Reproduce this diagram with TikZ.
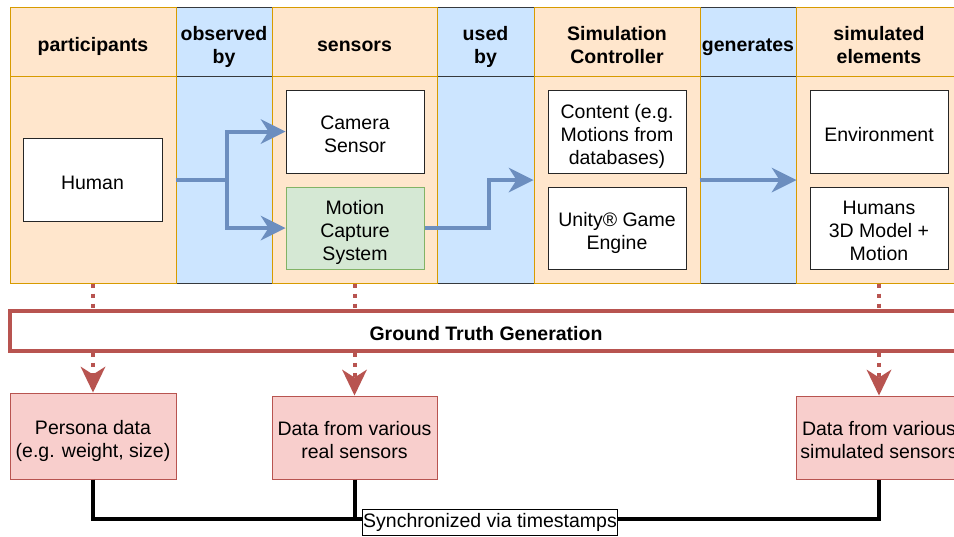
\documentclass[tikz,border=0pt]{standalone}
\usepackage{fontspec}
\setmainfont{Liberation Sans}
\usetikzlibrary{arrows.meta}

\definecolor{peach}{HTML}{FFE6CC}
\definecolor{peachline}{HTML}{D79B00}
\definecolor{skyfill}{HTML}{CCE5FF}
\definecolor{laneink}{HTML}{36393D}
\definecolor{flowblue}{HTML}{6C8EBF}
\definecolor{mocapfill}{HTML}{D5E8D4}
\definecolor{mocapline}{HTML}{82B366}
\definecolor{gtred}{HTML}{B85450}
\definecolor{gtfill}{HTML}{F8CECC}

\tikzset{
  txt/.style={font=\fontsize{19.5}{23}\selectfont, align=center, text=black},
  % fixed text box sizes centre each block on its line boxes, not on its glyphs
  boxtxt/.style={txt, text height=24.5pt, text depth=5pt},
  lines2/.style={text height=47.5pt},
  lines3/.style={text height=70.5pt},
  lanehead/.style={boxtxt, font=\fontsize{19.5}{23}\selectfont\bfseries, line width=1pt,
                   minimum height=68.5pt, inner sep=0pt},
  lanebody/.style={line width=1pt, minimum height=207pt, inner sep=0pt},
  orangelane/.style={fill=peach, draw=peachline},
  bluelane/.style={fill=skyfill, draw=laneink},
  whitebox/.style={boxtxt, draw=black!85, fill=white, line width=1pt,
                   minimum width=138pt, minimum height=83pt, inner sep=0pt},
  greenbox/.style={whitebox, draw=mocapline, fill=mocapfill},
  redbox/.style={boxtxt, draw=gtred, fill=gtfill, line width=1pt,
                 minimum width=166pt, minimum height=83pt, inner sep=0pt},
  flowtip/.style={-{Stealth[length=25pt, width=25pt, inset=8pt, line width=0pt]}},
  flow/.style={draw=flowblue, line width=4pt, flowtip},
  gtdots/.style={draw=gtred, line width=4pt, dash pattern=on 4pt off 6pt},
  gtarrow/.style={gtdots, -{Stealth[length=26pt, width=25pt, inset=8pt, line width=0pt]}},
  syncline/.style={draw=black, line width=4pt},
  synclabel/.style={txt, draw=black, fill=white, line width=0.8pt, inner xsep=1pt,
                    inner ysep=3pt, text height=15.5pt, text depth=4.5pt},
}

\begin{document}
\begin{tikzpicture}[x=1pt, y=-1pt]
  \useasboundingbox (0,0) rectangle (954,536);
  \fill[white] (0,0) rectangle (954,536);
  \clip (0,0) rectangle (954,536);

  % blue connecting lanes (drawn first so the orange lane edges stay on top)
  \node[lanehead, lines2, bluelane, minimum width=96pt] (obshead) at (224,41.75) {observed\\by};
  \node[lanebody, bluelane, minimum width=96pt] (obsbody) at (224,179.5) {};
  \node[lanehead, lines2, bluelane, minimum width=97pt] (usedhead) at (485.5,41.75) {used\\by};
  \node[lanebody, bluelane, minimum width=97pt] (usedbody) at (485.5,179.5) {};
  \node[lanehead, bluelane, minimum width=96pt] (genhead) at (748,41.75) {generates};
  \node[lanebody, bluelane, minimum width=96pt] (genbody) at (748,179.5) {};

  % orange component lanes
  \node[lanehead, orangelane, minimum width=166pt] (parthead) at (93,41.75) {participants};
  \node[lanebody, orangelane, minimum width=166pt] (partbody) at (93,179.5) {};
  \node[lanehead, orangelane, minimum width=165pt] (senshead) at (354.5,41.75) {sensors};
  \node[lanebody, orangelane, minimum width=165pt] (sensbody) at (354.5,179.5) {};
  \node[lanehead, lines2, orangelane, minimum width=166pt] (ctrlhead) at (617,41.75) {Simulation\\Controller};
  \node[lanebody, orangelane, minimum width=166pt] (ctrlbody) at (617,179.5) {};
  \node[lanehead, lines2, orangelane, minimum width=166pt] (simhead) at (879,41.75) {simulated\\elements};
  \node[lanebody, orangelane, minimum width=166pt] (simbody) at (879,179.5) {};

  % lane contents
  \node[whitebox, minimum width=139pt] (human) at (92.5,179.5) {Human};
  \node[whitebox, lines2] (camera) at (355,131.5) {Camera\\Sensor};
  \node[greenbox, lines3, minimum height=82pt] (mocap) at (355,228) {Motion\\Capture\\System};
  \node[whitebox, lines3] (content) at (617,131.5) {Content (e.g.\\Motions from\\databases)};
  \node[whitebox, lines2, minimum height=82pt] (unity) at (617,228) {Unity® Game\\Engine};
  \node[whitebox] (env) at (879,131.5) {Environment};
  \node[whitebox, lines3, minimum height=82pt] (humans3d) at (879,228) {Humans\\3D Model +\\Motion};

  % data flow through the lanes
  \coordinate (split) at (227,179.5);
  \coordinate (mocapbend) at (489,228);
  \coordinate (flowlevel) at (0,180);
  \draw[flow] (human.east -| obsbody.west) -- (split) |- (camera.west);
  \draw[flow] (split) |- (mocap.west);
  \draw[flow] (mocap.east) -- (mocapbend) |- (ctrlbody.west |- flowlevel);
  \draw[flow] (genbody.west |- flowlevel) -- (genbody.east |- flowlevel);

  % ground truth generation
  \node[boxtxt, font=\fontsize{19.5}{23}\selectfont\bfseries, draw=gtred, fill=white,
        line width=3.5pt, minimum width=952pt, minimum height=40pt, inner sep=0pt]
        (gt) at (486,331) {Ground Truth Generation};

  \node[redbox, lines2, minimum height=86pt] (persona) at (93,436) {Persona data\\(e.g. weight, size)};
  \node[redbox, lines2, minimum width=165pt] (real) at (354.5,437.5) {Data from various\\real sensors};
  \node[redbox, lines2] (simdata) at (879,437.5) {Data from various\\simulated sensors};

  \draw[gtdots] (partbody.south) -- (gt.north -| partbody.south);
  \draw[gtdots] (sensbody.south) -- (gt.north -| sensbody.south);
  \draw[gtdots] (simbody.south) -- (gt.north -| simbody.south);
  \draw[gtarrow] (gt.south -| persona.north) -- (persona.north);
  \draw[gtarrow] (gt.south -| real.north) -- (real.north);
  \draw[gtarrow] (gt.south -| simdata.north) -- (simdata.north);

  % synchronisation of the recorded data
  \coordinate (synclevel) at (0,519);
  \draw[syncline] (persona.south) -- (persona.south |- synclevel) -| (simdata.south);
  \draw[syncline] (real.south) -- (real.south |- synclevel);
  \node[synclabel] (sync) at (490,522) {Synchronized via timestamps};
\end{tikzpicture}
\end{document}
